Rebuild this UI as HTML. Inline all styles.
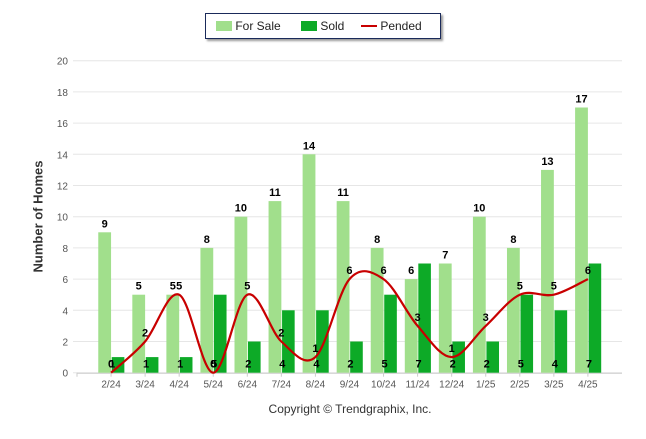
<!DOCTYPE html>
<html><head><meta charset="utf-8"><style>
body{margin:0;background:#fff;width:646px;height:434px;overflow:hidden;font-family:"Liberation Sans",Arial,sans-serif}
svg text{font-family:"Liberation Sans",Arial,sans-serif}
</style></head><body>
<svg id="c" width="646" height="434"></svg>
<script>
const categories=["2/24","3/24","4/24","5/24","6/24","7/24","8/24","9/24","10/24","11/24","12/24","1/25","2/25","3/25","4/25"];
const forSale=[9,5,5,8,10,11,14,11,8,6,7,10,8,13,17];
const sold=[1,1,1,5,2,4,4,2,5,7,2,2,5,4,7];
const pended=[0,2,5,0,5,2,1,6,6,3,1,3,5,5,6];
const yTicks=[0,2,4,6,8,10,12,14,16,18,20];
const NS="http://www.w3.org/2000/svg";
const svg=document.getElementById('c');
const X0=77,STEP=34.06,Y0=372.7,YPU=15.6;
const xc=i=>X0+STEP*(i+1);
const y=v=>Y0-v*YPU;
function mk(t,a,p){const e=document.createElementNS(NS,t);for(const k in a)e.setAttribute(k,a[k]);(p||svg).appendChild(e);return e;}
// grid
yTicks.forEach(v=>{
 const g=mk('line',{x1:73,x2:622,y1:y(v),y2:y(v),stroke:'#e6e6e6','stroke-width':1});
 
 
 const t=mk('text',{x:68,y:y(v)+4,'text-anchor':'end','font-size':10,fill:'#555'});t.textContent=v;
 
 
});
mk('line',{x1:77,x2:622,y1:Y0+0.5,y2:Y0+0.5,stroke:'#ccc'});
// bars
categories.forEach((c,i)=>{
 const cx=xc(i);
 const b1=mk('rect',{x:cx-12.8,y:y(forSale[i]),width:12.8,height:forSale[i]*YPU,fill:'#a1df8c'});
 
 
 const b2=mk('rect',{x:cx+0.7,y:y(sold[i]),width:12.6,height:sold[i]*YPU,fill:'#0daa27'});
 
 
 const t=mk('text',{x:cx,y:Y0+15,'text-anchor':'middle','font-size':10,fill:'#555'});t.textContent=c;
 
 
 mk('line',{x1:cx,x2:cx,y1:Y0,y2:Y0+4,stroke:'#ccc'});
});
mk('line',{x1:X0,x2:X0,y1:Y0,y2:Y0+4,stroke:'#ccc'});
// pended line (catmull-rom)
const pts=pended.map((v,i)=>[xc(i),y(v)]);
let d='M'+pts[0][0]+','+pts[0][1];
for(let i=0;i<pts.length-1;i++){
 const p0=pts[Math.max(0,i-1)],p1=pts[i],p2=pts[i+1],p3=pts[Math.min(pts.length-1,i+2)];
 const c1=[p1[0]+(p2[0]-p0[0])/6,p1[1]+(p2[1]-p0[1])/6],c2=[p2[0]-(p3[0]-p1[0])/6,p2[1]-(p3[1]-p1[1])/6];
 d+=' C'+c1+' '+c2+' '+p2;
}
const ln=mk('path',{d:d,fill:'none',stroke:'#c80000','stroke-width':2.2});


// labels
categories.forEach((c,i)=>{
 const cx=xc(i);
 const a=mk('text',{x:cx-6.4,y:y(forSale[i])-5,'text-anchor':'middle','font-size':11,'font-weight':'bold',fill:'#000'});a.textContent=forSale[i];
 
 
 const b=mk('text',{x:cx+1,y:Y0-5,'text-anchor':'middle','font-size':11,'font-weight':'bold',fill:'#000'});b.textContent=sold[i];
 
 
 const p=mk('text',{x:cx,y:y(pended[i])-5,'text-anchor':'middle','font-size':11,'font-weight':'bold',fill:'#000'});p.textContent=pended[i];
 
 
});
</script>
<div style="position:absolute;left:205px;top:13px;width:234px;height:24px;border:1px solid #1a2a5a;box-shadow:2px 2px 2px #999;background:#fff;font-size:12px;color:#222">
 <span style="position:absolute;left:10px;top:5px"><span style="display:inline-block;width:16px;height:10px;background:#a1df8c;vertical-align:-1px"></span> For Sale</span>
 <span style="position:absolute;left:95px;top:5px"><span style="display:inline-block;width:16px;height:10px;background:#0daa27;vertical-align:-1px"></span> Sold</span>
 <span style="position:absolute;left:155px;top:5px"><span style="display:inline-block;width:16px;height:2px;background:#c80000;vertical-align:3px"></span> Pended</span>
</div>
<div style="position:absolute;left:-22px;top:209px;width:120px;text-align:center;transform:rotate(-90deg);font-size:13px;font-weight:bold;color:#333">Number of Homes</div>
<div style="position:absolute;left:0;top:402px;width:700px;text-align:center;font-size:12px;color:#333">Copyright © Trendgraphix, Inc.</div>
</body></html>
